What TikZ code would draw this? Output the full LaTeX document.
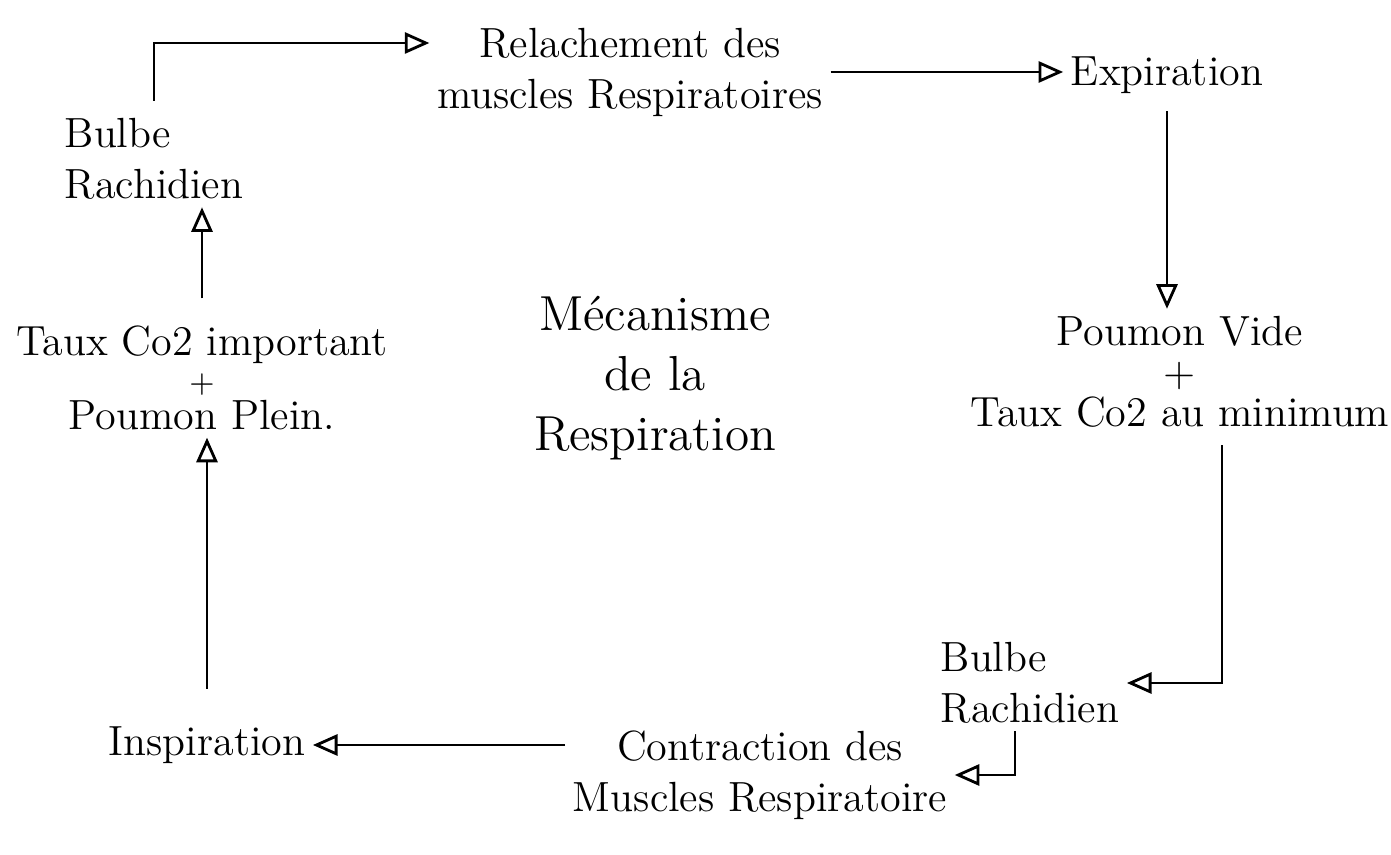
\documentclass[tikz,border=0pt]{standalone}
\usetikzlibrary{arrows.meta}
\begin{document}
\begin{tikzpicture}[
  lbl/.style={inner sep=2pt,font=\fontsize{12}{14.5}\selectfont},
  arr/.style={line width=0.8pt,-{Triangle[open,length=7pt,width=6pt]}}]
\useasboundingbox(0,0) rectangle (13.91,8.54);
%
\node[lbl,align=left](bulbeL) at (1.54,6.95){Bulbe\\Rachidien};
\node[lbl,align=center](relax) at (6.3,7.82){Relachement des\\muscles Respiratoires};
\node[lbl](expir) at (11.67,7.79){Expiration};
\node[lbl,align=center](vide) at (11.8,4.82){Poumon Vide\\[-3pt]+\\[-3pt]Taux Co2 au minimum};
\node[lbl,align=left](bulbeR) at (10.3,1.71){Bulbe\\Rachidien};
\node[lbl,align=center](contr) at (7.6,0.79){Contraction des\\Muscles Respiratoire};
\node[lbl](insp) at (2.07,1.09){Inspiration};
\node[lbl,align=center](taux) at (2.02,4.76){Taux Co2 important\\[-4pt]{\small +}\\[-4pt]Poumon Plein.};
\node[font=\fontsize{14}{17}\selectfont,align=center](titre) at (6.55,4.76){Mécanisme\\de la\\Respiration};
%
\draw[arr]([yshift=1mm]bulbeL.north) |- ([yshift=2.9mm]relax.west);
\draw[arr](relax.east)--(relax.east -| expir.west);
\draw[arr]([yshift=-1mm]expir.south)--(expir.south |- vide.north);
\draw[arr]([xshift=4.2mm,yshift=-1mm]vide.south) |- (bulbeR.east);
\draw[arr]([xshift=-1.5mm]bulbeR.south) |- (contr.east);
\draw[arr](insp.east -| contr.west)--(insp.east);
\draw[arr]([yshift=3mm]insp.north)--(insp.north |- taux.south);
\draw[arr]([yshift=2mm]taux.north)--(taux.north |- bulbeL.south);
\end{tikzpicture}
\end{document}
